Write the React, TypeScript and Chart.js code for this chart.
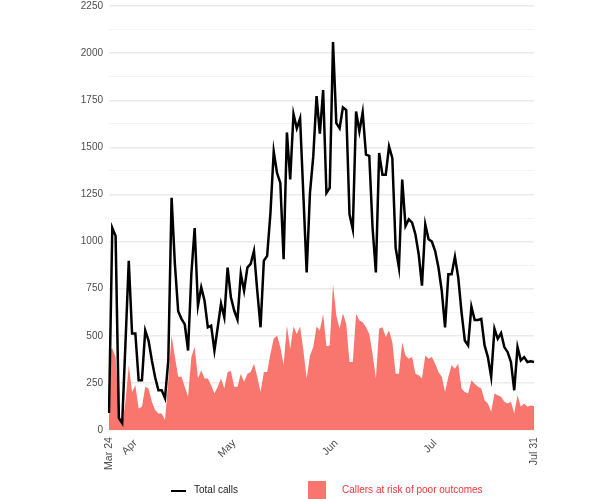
import React, { useEffect, useRef } from 'react';
import { Chart, registerables } from 'chart.js';

Chart.register(...registerables);

// ---- Data ----
const MONTH_NAMES = ['Jan', 'Feb', 'Mar', 'Apr', 'May', 'Jun', 'Jul', 'Aug', 'Sep', 'Oct', 'Nov', 'Dec'];
const START_MONTH = 2; // March
const START_DAY = 24;
const DAYS_IN_MONTH = [31, 29, 31, 30, 31, 30, 31, 31, 30, 31, 30, 31];

const TOTAL_CALLS = [
  90, 1073, 1030, 63, 37, 460, 898, 512, 512, 264,
  264, 528, 475, 370, 280, 211, 211, 169, 370, 1232,
  880, 630, 590, 560, 422, 829, 1072, 660, 757, 686,
  545, 554, 422, 545, 670, 598, 862, 704, 634, 586,
  829, 739, 862, 882, 950, 739, 545, 898, 924, 1150,
  1478, 1364, 1311, 906, 1579, 1330, 1677, 1601, 1654, 1245,
  836, 1258, 1452, 1772, 1572, 1804, 1258, 1285, 2059, 1628,
  1601, 1712, 1698, 1144, 1065, 1690, 1584, 1686, 1461, 1455,
  1073, 836, 1470, 1355, 1355, 1505, 1443, 968, 862, 1329,
  1082, 1118, 1100, 1038, 933, 766, 1091, 1012, 1000, 950,
  862, 739, 545, 827, 827, 919, 810, 625, 475, 449,
  655, 584, 584, 590, 449, 387, 282, 537, 484, 514,
  440, 413, 361, 211, 440, 370, 387, 361, 365, 361,
];

const AT_RISK = [
  420, 433, 387, 100, 25, 150, 343, 202, 238, 114,
  123, 229, 220, 150, 106, 88, 88, 53, 264, 502,
  387, 282, 282, 230, 176, 387, 440, 273, 317, 273,
  273, 238, 194, 229, 273, 220, 308, 313, 229, 229,
  299, 255, 299, 308, 352, 282, 202, 308, 308, 405,
  484, 502, 440, 343, 554, 431, 549, 510, 549, 422,
  273, 396, 440, 549, 528, 616, 444, 449, 774, 607,
  537, 620, 563, 361, 361, 616, 581, 572, 545, 510,
  405, 273, 537, 545, 493, 528, 466, 299, 299, 466,
  396, 378, 387, 299, 290, 273, 396, 378, 387, 352,
  308, 282, 202, 282, 343, 325, 352, 220, 202, 194,
  264, 246, 229, 220, 158, 141, 97, 194, 185, 176,
  150, 141, 150, 88, 185, 123, 141, 123, 130, 127,
];

// category labels: one per day from Mar 24
const DAY_LABELS: string[] = (() => {
  const out: string[] = [];
  let m = START_MONTH;
  let d = START_DAY;
  for (let i = 0; i < TOTAL_CALLS.length; i++) {
    out.push(MONTH_NAMES[m] + ' ' + d);
    d++;
    if (d > DAYS_IN_MONTH[m]) { d = 1; m++; }
  }
  return out;
})();

const X_TICK_AT = ['Mar 24', 'Apr 1', 'May 1', 'Jun 1', 'Jul 1', 'Jul 31'];
const X_TICK_TEXT = ['Mar 24', 'Apr', 'May', 'Jun', 'Jul', 'Jul 31'];
const X_TICK_ROTATION = [90, 45, 45, 45, 45, 90];

const SERIES_NAMES = ['Total calls', 'Callers at risk of poor outcomes'];

const Y_MAX = 2250;
const Y_STEP_LABEL = 250;
const Y_STEP_GRID = 125;

const FONT = "'Liberation Sans', Arial, sans-serif";
const AXIS_TEXT = '#4d4d4d';
const RED = '#F8766D';
const RED_TEXT = '#f0343c';

const xLabelsPlugin = {
  id: 'xLabels',
  afterDraw(chart: any) {
    const ctx = chart.ctx;
    const xs = chart.scales.x;
    const bottom = chart.chartArea.bottom;
    ctx.save();
    ctx.font = `10.6px ${FONT}`;
    ctx.fillStyle = AXIS_TEXT;
    ctx.textAlign = 'right';
    ctx.textBaseline = 'middle';
    X_TICK_AT.forEach((lab, i) => {
      const idx = DAY_LABELS.indexOf(lab);
      if (idx < 0) return;
      const x = xs.getPixelForValue(idx);
      const rot = X_TICK_ROTATION[i];
      const y = rot === 90 ? bottom + 7 : bottom + 11.5;
      ctx.save();
      ctx.translate(x, y);
      ctx.rotate((-rot * Math.PI) / 180);
      ctx.fillText(X_TICK_TEXT[i], 0, 0);
      ctx.restore();
    });
    ctx.restore();
  },
};

export default function App() {
  const ref = useRef<HTMLCanvasElement | null>(null);

  useEffect(() => {
    if (!ref.current) return;
    const chart = new Chart(ref.current, {
      type: 'line',
      data: {
        labels: DAY_LABELS,
        datasets: [
          {
            label: SERIES_NAMES[0],
            data: TOTAL_CALLS,
            borderColor: '#000000',
            borderWidth: 2.5,
            pointRadius: 0,
            fill: false,
            tension: 0,
            order: 0,
          },
          {
            label: SERIES_NAMES[1],
            data: AT_RISK,
            borderColor: 'rgba(0,0,0,0)',
            borderWidth: 0,
            backgroundColor: RED,
            pointRadius: 0,
            fill: 'origin',
            tension: 0,
            order: 1,
          },
        ],
      },
      options: {
        responsive: false,
        animation: false,
        devicePixelRatio: 1,
        layout: { padding: { top: 10, right: 82, left: 0, bottom: 0 } },
        plugins: { legend: { display: false }, tooltip: { enabled: false } },
        scales: {
          x: {
            type: 'category',
            offset: false,
            grid: { display: false },
            border: { display: false },
            ticks: { display: false },
            afterFit: (s: any) => { s.height = 69; },
          },
          y: {
            min: 0,
            max: Y_MAX,
            border: { display: false },
            ticks: {
              stepSize: Y_STEP_GRID,
              autoSkip: false,
              padding: 6,
              color: AXIS_TEXT,
              font: { family: FONT, size: 10 },
              callback: (v: any) => (Number(v) % Y_STEP_LABEL === 0 ? String(v) : ''),
            },
            grid: {
              drawTicks: false,
              color: (c: any) => (c.tick && c.tick.value % Y_STEP_LABEL === 0 ? '#ebebeb' : '#f4f4f4'),
              lineWidth: (c: any) => (c.tick && c.tick.value % Y_STEP_LABEL === 0 ? 1.4 : 1),
            },
            afterFit: (s: any) => { s.width = 109; },
          },
        },
      },
      plugins: [xLabelsPlugin],
    } as any);
    return () => chart.destroy();
  }, []);

  const textStyle: React.CSSProperties = {
    position: 'absolute',
    fontFamily: FONT,
    fontSize: 10,
    lineHeight: '12px',
    whiteSpace: 'nowrap',
  };

  return (
    <div style={{ position: 'absolute', left: 0, top: 0, width: 616, height: 499, overflow: 'hidden', background: '#fff' }}>
      <canvas ref={ref} width={616} height={505} style={{ position: 'absolute', left: 0, top: -6, width: 616, height: 505 }} />
      <div style={{ position: 'absolute', left: 171, top: 489.5, width: 15, height: 2.2, background: '#000' }} />
      <div style={{ ...textStyle, left: 194, top: 484, color: '#222' }}>{SERIES_NAMES[0]}</div>
      <div style={{ position: 'absolute', left: 308, top: 481, width: 18, height: 18, background: RED }} />
      <div style={{ ...textStyle, left: 342, top: 484, color: RED_TEXT }}>{SERIES_NAMES[1]}</div>
    </div>
  );
}
